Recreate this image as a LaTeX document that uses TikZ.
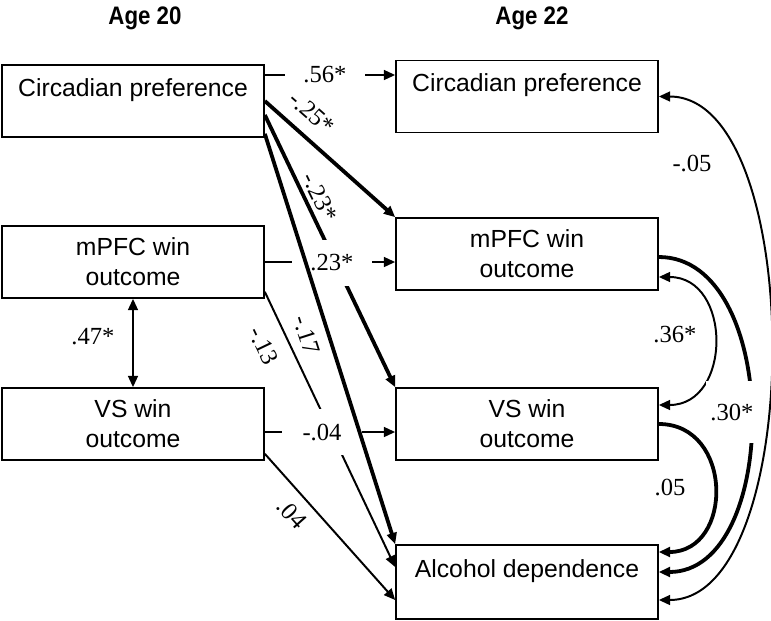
\documentclass[tikz,border=0pt]{standalone}
\usepackage{fontspec}
\setmainfont{Liberation Serif}
\newfontfamily\boxfont{Liberation Sans}
\newfontfamily\headfont{Liberation Sans}[FakeStretch=0.88]
\usetikzlibrary{arrows.meta}

\begin{document}
\begin{tikzpicture}[
    box/.style={draw, line width=1.2pt, minimum width=6.55cm, minimum height=1.8cm,
        inner sep=0pt, align=center, font=\boxfont\fontsize{17.6}{21.3}\selectfont},
    coef/.style={font=\fontsize{17.5}{20}\selectfont, inner sep=1pt},
    gapcoef/.style={coef, fill=white, minimum width=2cm, minimum height=1.15cm},
    thinpath/.style={line width=1.4pt},
    heavypath/.style={line width=2.7pt},
    >={Triangle[length=8pt,width=7pt]}
]
    \useasboundingbox (0,0) rectangle (19.275,-15.525);

    % Headers:
    \node[font=\headfont\bfseries\fontsize{18}{20}\selectfont] (age20) at (3.625,-0.45) {Age 20};
    \node[font=\headfont\bfseries\fontsize{18}{20}\selectfont] (age22) at (13.3,-0.45) {Age 22};

    % Boxes:
    % left column (age 20)
    \node[box] (cp20) at (3.325,-2.525) {Circadian preference\\[-8.5pt]\strut};
    \node[box] (mpfc20) at (3.325,-6.55) {mPFC win\\outcome};
    \node[box] (vs20) at (3.325,-10.6) {VS win\\outcome};
    % right column (age 22)
    \node[box] (cp22) at (13.175,-2.4125) {Circadian preference\\[-8.5pt]\strut};
    \node[box] (mpfc22) at (13.175,-6.35) {mPFC win\\outcome};
    \node[box] (vs22) at (13.175,-10.6) {VS win\\outcome};
    \node[box, minimum height=1.85cm] (alc22) at (13.175,-14.55) {Alcohol dependence\\[-8.5pt]\strut};

    % Paths:
    \draw[thinpath,->] ([yshift=0.65cm]cp20.east) -- ([yshift=0.65cm]cp20.east -| cp22.west);
    \draw[heavypath,->] (cp20.east) -- (mpfc22.north west);
    \draw[heavypath,->] ([yshift=-0.35cm]cp20.east) -- (vs22.north west);
    \draw[thinpath,->] (mpfc20.east) -- (mpfc20.east -| mpfc22.west);
    \draw[thinpath,->] ([yshift=0.175cm]mpfc20.south east) -- ([yshift=0.375cm]alc22.west);
    \draw[thinpath,->] ([yshift=-0.2cm]vs20.east) -- ([yshift=-0.2cm]vs20.east -| vs22.west);
    \draw[thinpath,->] ([yshift=0.175cm]vs20.south east) -- ([yshift=-0.45cm]alc22.west);
    \draw[thinpath,<->] (mpfc20) -- (vs20);

    % covariances / residual paths at age 22
    \draw[thinpath,<->] ([yshift=-0.575cm]mpfc22.east) .. controls +(1.83,0) and +(1.83,0) .. ([yshift=0.475cm]vs22.east);
    \draw[heavypath,->] ([yshift=-0.075cm]mpfc22.east) .. controls +(3.07,0) and +(3.07,0) .. ([yshift=0.25cm]alc22.east);
    \draw[heavypath,->] (vs22.east) .. controls +(1.87,0) and +(1.87,0) .. ([yshift=0.75cm]alc22.east);
    \draw[thinpath,<->] ([yshift=-0.45cm]alc22.east) .. controls +(3.7,0) and +(3.7,0) .. (cp22.east);

    % Labels that cut the lines:
    \node[gapcoef] (c56) at (8.125,-1.875) {.56*};
    \node[gapcoef] (c23) at (8.3,-6.575) {.23*};
    \node[gapcoef] (c04n) at (8.05,-10.8) {-.04};
    \node[gapcoef, minimum width=1.3cm, minimum height=1.55cm] (c30) at (18.3,-10.3) {.30*};

    % this one runs over the gaps
    \draw[heavypath,->] ([yshift=0.1cm]cp20.south east) -- (alc22.north west);

    % Other labels:
    \node[coef, rotate=-41.6] (c25) at (7.8,-2.825) {-.25*};
    \node[coef, rotate=-64.2] (c23n) at (8.0,-4.925) {-.23*};
    \node[coef, rotate=-72.2] (c17) at (7.675,-8.375) {-.17};
    \node[coef, rotate=-64.4] (c13) at (6.6,-8.65) {-.13};
    \node[coef, rotate=-48.1] (c04) at (7.3,-12.85) {.04};
    \node[coef] (c47) at (2.325,-8.425) {.47*};
    \node[coef] (c05n) at (17.3,-4.075) {-.05};
    \node[coef] (c36) at (16.875,-8.375) {.36*};
    \node[coef] (c05) at (16.75,-12.175) {.05};

\end{tikzpicture}
\end{document}
